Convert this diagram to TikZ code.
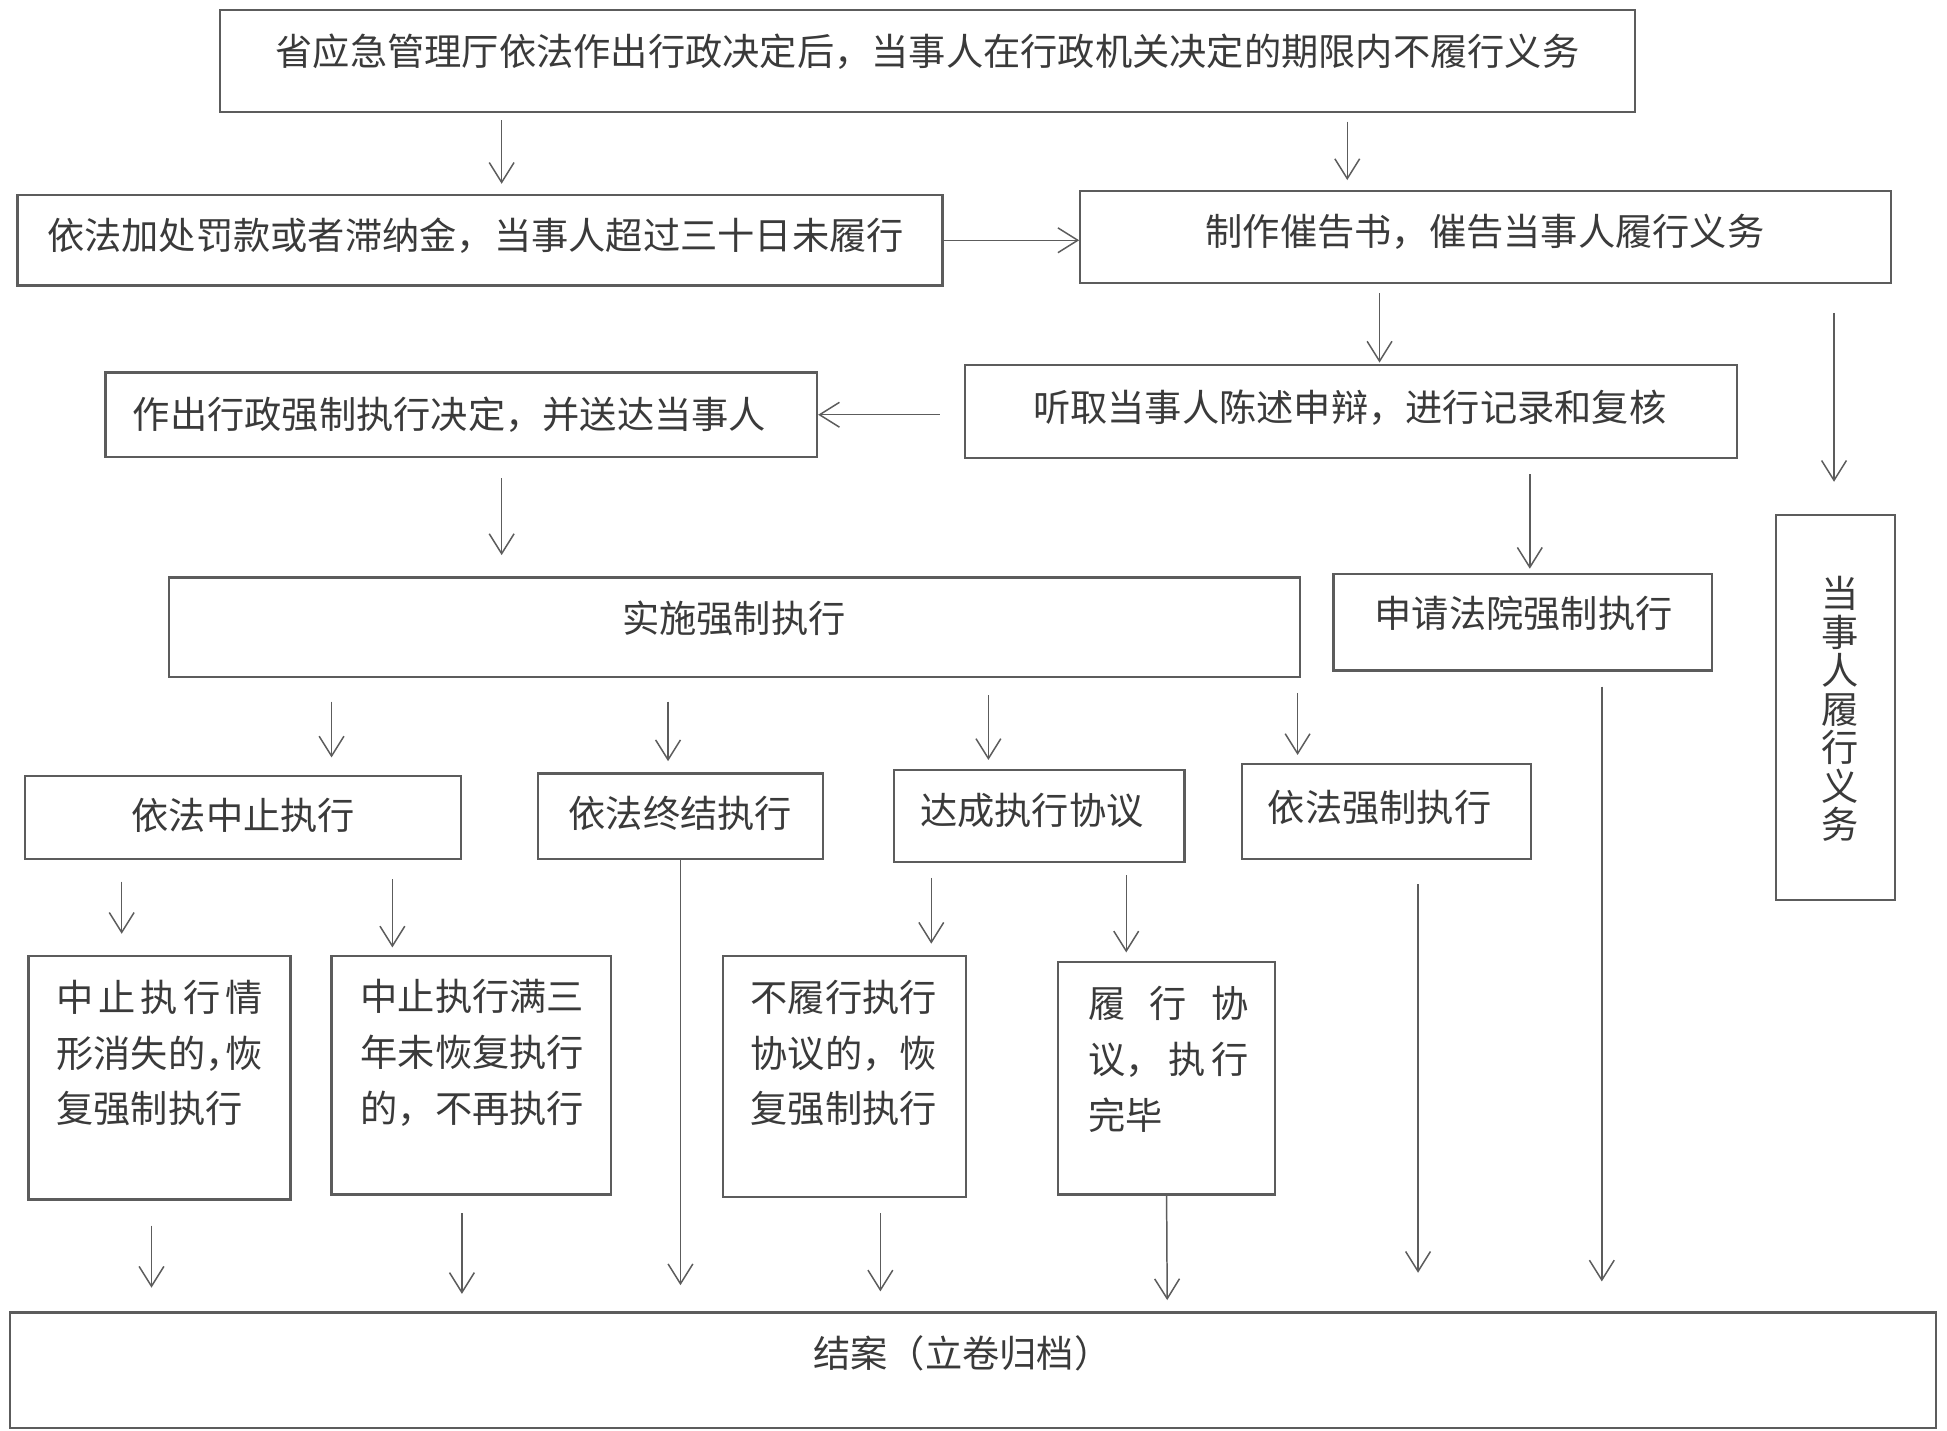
\documentclass[tikz,border=0pt]{standalone}
\usepackage{fontspec}
\newfontfamily\cjk{Noto Sans CJK SC}
\usetikzlibrary{arrows.meta,fit}
\definecolor{lc}{HTML}{5C5C5C}
\definecolor{tc}{HTML}{3A3A3A}
\begin{document}
\begin{tikzpicture}[x=0.5pt,y=-0.5pt,
  box/.style={draw=lc,line width=0.9pt,inner sep=0pt},
  txt/.style={font=\cjk\fontsize{15pt}{22.5pt}\selectfont,text=tc,inner sep=0pt},
  vtxt/.style={font=\cjk\fontsize{15pt}{15.5pt}\selectfont,text=tc,inner sep=0pt,align=center},
  arr/.style={draw=lc,line width=0.6pt,-{Straight Barb[length=8pt,width=10pt,line width=0.6pt]}}]
\fill[white] (0,0) rectangle (1568,1152);
\useasboundingbox (0,0) rectangle (1568,1152);

% boxes
\node[box,fit={(177,8) (1317,90)}] (top) {};
\node[box,fit={(14,157) (759,230)}] (fine) {};
\node[box,fit={(870,154) (1523,228)}] (urge) {};
\node[box,fit={(777,294) (1399,369)}] (hear) {};
\node[box,fit={(85,300) (658,368)}] (decide) {};
\node[box,fit={(136,465) (1047,545)}] (impl) {};
\node[box,fit={(1074,462) (1379,540)}] (court) {};
\node[box,fit={(1430,415) (1526,725)}] (perform) {};
\node[box,fit={(20,625) (371,692)}] (suspend) {};
\node[box,fit={(433,623) (663,692)}] (terminate) {};
\node[box,fit={(720,620) (954,694)}] (agree) {};
\node[box,fit={(1000,615) (1233,692)}] (enforce) {};
\node[box,fit={(23,770) (234,966)}] (resume) {};
\node[box,fit={(267,770) (492,962)}] (stop) {};
\node[box,fit={(582,770) (778,964)}] (breach) {};
\node[box,fit={(852,775) (1027,962)}] (done) {};
\node[box,fit={(8,1057) (1559,1150)}] (close) {};

% texts
\node[txt] (ttop) at (747,42) {省应急管理厅依法作出行政决定后，当事人在行政机关决定的期限内不履行义务};
\node[txt] (tfine) at (383,190) {依法加处罚款或者滞纳金，当事人超过三十日未履行};
\node[txt] (turge) at (1196,187) {制作催告书，催告当事人履行义务};
\node[txt] (thear) at (1087,328) {听取当事人陈述申辩，进行记录和复核};
\node[txt] (tdecide) at (362,334) {作出行政强制执行决定，并送达当事人};
\node[txt] (timpl) at (591,498) {实施强制执行};
\node[txt] (tcourt) at (1227,494) {申请法院强制执行};
\node[vtxt] (tperform) at (1482,571) {当\\事\\人\\履\\行\\义\\务};
\node[txt] (tsuspend) at (196,657) {依法中止执行};
\node[txt] (tterminate) at (548,655) {依法终结执行};
\node[txt] (tagree) at (831,653) {达成执行协议};
\node[txt] (tenforce) at (1111,650) {依法强制执行};
\node[txt,align=left,anchor=west] (tresume) at (45,848)
  {\makebox[83pt][s]{中\hfill 止\hfill 执\hfill 行\hfill 情}\\形消失的，\kern-7pt 恢\\复强制执行};
\node[txt,align=left,anchor=west] (tstop) at (290,848)
  {中止执行满三\\年未恢复执行\\的，不再执行};
\node[txt,align=left,anchor=west] (tbreach) at (604,848)
  {不履行执行\\协议的，恢\\复强制执行};
\node[txt,align=left,anchor=west] (tdone) at (876,853)
  {\makebox[64.5pt][s]{履\hfill 行\hfill 协}\\\makebox[64.5pt][s]{议，\hfill 执\hfill 行}\\完毕};
\node[txt] (tclose) at (775,1090) {结案（立卷归档）};

% arrow end points
\coordinate (a1s) at (404,97);   \coordinate (a1e) at (404,148);
\coordinate (a2s) at (1085,98);  \coordinate (a2e) at (1085,145);
\coordinate (a4s) at (1111,236); \coordinate (a4e) at (1111,292);
\coordinate (a5s) at (1477,252); \coordinate (a5e) at (1477,388);
\coordinate (a6s) at (757,334);
\coordinate (a7s) at (404,385);  \coordinate (a7e) at (404,447);
\coordinate (a8s) at (1232,382); \coordinate (a8e) at (1232,458);
\coordinate (a9s) at (267,565);  \coordinate (a9e) at (267,610);
\coordinate (a10s) at (538,565); \coordinate (a10e) at (538,613);
\coordinate (a11s) at (796,560); \coordinate (a11e) at (796,612);
\coordinate (a12s) at (1045,558);\coordinate (a12e) at (1045,608);
\coordinate (a13s) at (98,710);  \coordinate (a13e) at (98,752);
\coordinate (a14s) at (316,708); \coordinate (a14e) at (316,763);
\coordinate (a15s) at (750,707); \coordinate (a15e) at (750,760);
\coordinate (a16s) at (907,705); \coordinate (a16e) at (907,767);
\coordinate (a17s) at (122,987); \coordinate (a17e) at (122,1037);
\coordinate (a18s) at (372,977); \coordinate (a18e) at (372,1042);
\coordinate (a19e) at (548,1035);
\coordinate (a20s) at (709,977); \coordinate (a20e) at (709,1040);
\coordinate (a21e) at (940,1047);
\coordinate (a22s) at (1142,712);\coordinate (a22e) at (1142,1025);
\coordinate (a23s) at (1290,553);\coordinate (a23e) at (1290,1032);

% connectors
\draw[arr] (a1s) -- (a1e);
\draw[arr] (a2s) -- (a2e);
\draw[arr] (fine.east) -- (fine.east -| urge.west);
\draw[arr] (a4s) -- (a4e);
\draw[arr] (a5s) -- (a5e);
\draw[arr] (a6s) -- (a6s -| decide.east);
\draw[arr] (a7s) -- (a7e);
\draw[arr] (a8s) -- (a8e);
\draw[arr] (a9s) -- (a9e);
\draw[arr] (a10s) -- (a10e);
\draw[arr] (a11s) -- (a11e);
\draw[arr] (a12s) -- (a12e);
\draw[arr] (a13s) -- (a13e);
\draw[arr] (a14s) -- (a14e);
\draw[arr] (a15s) -- (a15e);
\draw[arr] (a16s) -- (a16e);
\draw[arr] (a17s) -- (a17e);
\draw[arr] (a18s) -- (a18e);
\draw[arr] (terminate.south) -- (a19e);
\draw[arr] (a20s) -- (a20e);
\draw[arr] (done.south) -- (a21e);
\draw[arr] (a22s) -- (a22e);
\draw[arr] (a23s) -- (a23e);
\end{tikzpicture}
\end{document}
